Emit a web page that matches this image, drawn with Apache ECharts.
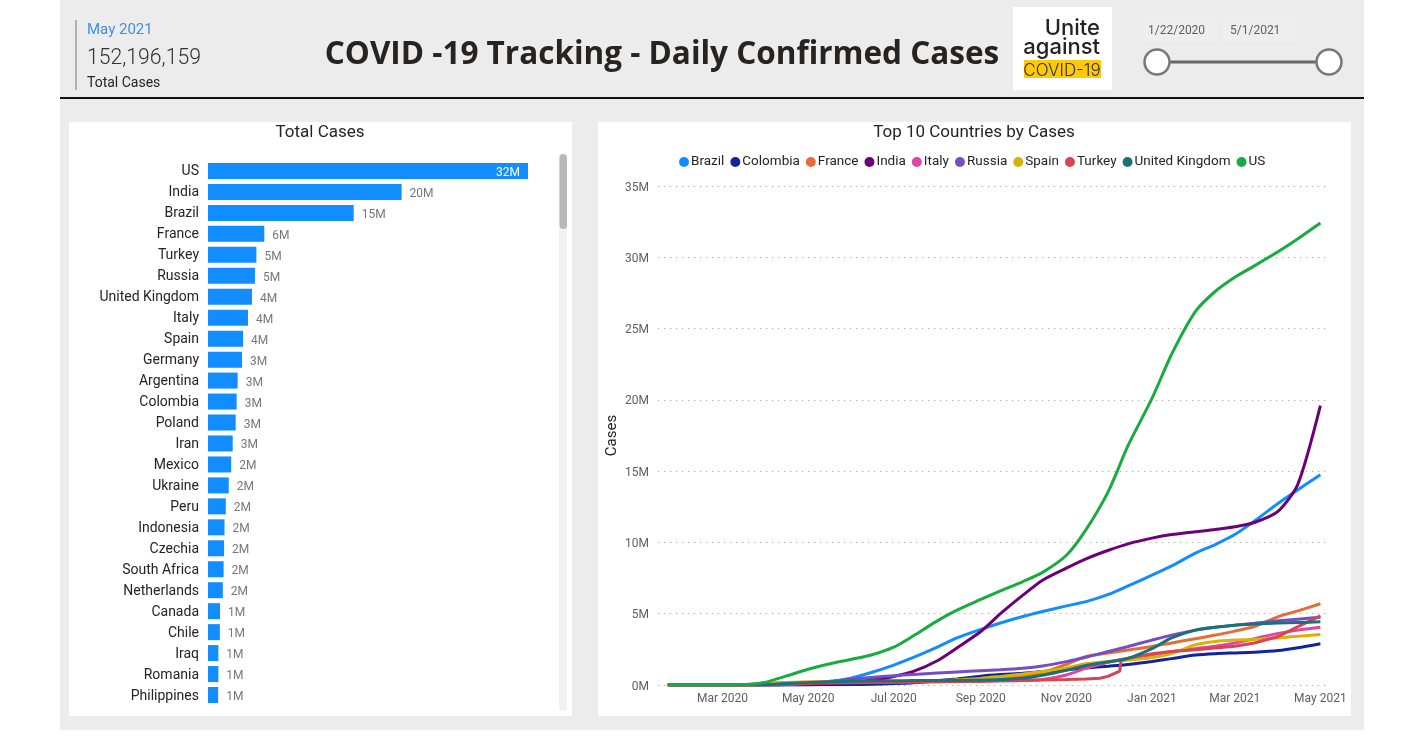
<!DOCTYPE html>
<html>
<head>
<meta charset="utf-8">
<script src="https://cdn.jsdelivr.net/npm/echarts@6/dist/echarts.min.js"></script>
<style>
html, body { margin: 0; padding: 0; background: #fff; }
#main { width: 1402px; height: 738px; }
</style>
</head>
<body>
<div id="main"></div>
<script>
// total cases per country, millions
var countries = ['US','India','Brazil','France','Turkey','Russia','United Kingdom','Italy','Spain','Germany','Argentina','Colombia','Poland','Iran','Mexico','Ukraine','Peru','Indonesia','Czechia','South Africa','Netherlands','Canada','Chile','Iraq','Romania','Philippines'];
var totals = [32.4,19.6,14.75,5.7,4.9,4.75,4.45,4.05,3.55,3.45,3.0,2.9,2.8,2.5,2.35,2.1,1.8,1.67,1.63,1.58,1.5,1.22,1.2,1.05,1.05,1.03];

// cumulative cases over time, millions
var dates = ['2020-01-22','2020-02-01','2020-02-15','2020-03-01','2020-03-15','2020-04-01','2020-04-15','2020-05-01','2020-05-15','2020-06-01','2020-06-15','2020-07-01','2020-07-15','2020-08-01','2020-08-15','2020-09-01','2020-09-15','2020-10-01','2020-10-15','2020-11-01','2020-11-15','2020-12-01','2020-12-15','2021-01-01','2021-01-15','2021-02-01','2021-02-15','2021-03-01','2021-03-15','2021-04-01','2021-04-15','2021-05-01'];
var brazil   = [0,0,0,0,0,0.006,0.028,0.09,0.2,0.5,0.88,1.4,1.93,2.65,3.3,3.9,4.35,4.8,5.15,5.55,5.85,6.35,6.95,7.7,8.35,9.25,9.85,10.55,11.5,12.75,13.7,14.75];
var colombia = [0,0,0,0,0,0.001,0.003,0.007,0.014,0.03,0.054,0.1,0.16,0.3,0.43,0.62,0.73,0.83,0.94,1.07,1.2,1.32,1.44,1.65,1.85,2.1,2.2,2.25,2.3,2.42,2.62,2.9];
var france   = [0,0,0,0,0.005,0.057,0.13,0.17,0.18,0.19,0.2,0.21,0.22,0.23,0.26,0.31,0.42,0.62,0.87,1.45,2.0,2.25,2.45,2.7,2.95,3.25,3.5,3.78,4.1,4.8,5.2,5.7];
var india    = [0,0,0,0,0,0.002,0.01,0.035,0.08,0.2,0.34,0.6,0.95,1.7,2.6,3.75,5.0,6.3,7.35,8.2,8.85,9.45,9.9,10.3,10.55,10.75,10.9,11.1,11.4,12.2,14.1,19.6];
var italy    = [0,0,0,0.001,0.02,0.11,0.16,0.2,0.22,0.23,0.237,0.24,0.244,0.25,0.253,0.27,0.29,0.315,0.38,0.7,1.18,1.6,1.88,2.1,2.35,2.55,2.72,2.95,3.25,3.62,3.85,4.05];
var russia   = [0,0,0,0,0,0.003,0.02,0.11,0.25,0.41,0.53,0.65,0.74,0.84,0.92,1.0,1.07,1.18,1.34,1.64,1.95,2.35,2.7,3.15,3.5,3.85,4.05,4.2,4.33,4.5,4.62,4.75];
var spain    = [0,0,0,0,0.008,0.1,0.18,0.21,0.23,0.24,0.245,0.25,0.26,0.29,0.36,0.46,0.6,0.77,0.94,1.2,1.5,1.65,1.76,1.93,2.2,2.82,3.05,3.15,3.2,3.3,3.42,3.55];
var uk       = [0,0,0,0,0.001,0.03,0.1,0.17,0.23,0.27,0.29,0.3,0.31,0.31,0.32,0.34,0.38,0.47,0.68,1.03,1.37,1.63,1.87,2.55,3.3,3.85,4.05,4.19,4.27,4.35,4.39,4.43];
var us       = [0,0,0,0,0.01,0.2,0.62,1.1,1.45,1.8,2.1,2.65,3.45,4.5,5.25,6.0,6.6,7.25,7.9,9.1,10.9,13.6,16.8,20.1,23.2,26.2,27.6,28.6,29.4,30.4,31.3,32.4];

// Turkey has its own dates because of the jump in December
var turkeyDates = ['2020-01-22','2020-03-15','2020-04-01','2020-04-15','2020-05-01','2020-05-15','2020-06-01','2020-06-15','2020-07-01','2020-07-15','2020-08-01','2020-08-15','2020-09-01','2020-09-15','2020-10-01','2020-10-15','2020-11-01','2020-11-15','2020-11-25','2020-12-01','2020-12-09','2020-12-10','2020-12-15','2021-01-01','2021-01-15','2021-02-01','2021-02-15','2021-03-01','2021-03-15','2021-04-01','2021-04-15','2021-05-01'];
var turkey = [0,0,0.015,0.07,0.12,0.145,0.165,0.18,0.2,0.215,0.23,0.25,0.27,0.295,0.32,0.345,0.38,0.42,0.47,0.62,0.98,1.72,1.87,2.2,2.35,2.48,2.6,2.72,2.95,3.4,4.1,4.85];

var xTicks = ['2020-03-01','2020-05-01','2020-07-01','2020-09-01','2020-11-01','2021-01-01','2021-03-01','2021-05-01'];
var monthNames = ['Jan','Feb','Mar','Apr','May','Jun','Jul','Aug','Sep','Oct','Nov','Dec'];

var lineNames  = ['Brazil','Colombia','France','India','Italy','Russia','Spain','Turkey','United Kingdom','US'];
var lineValues = [brazil,colombia,france,india,italy,russia,spain,turkey,uk,us];
var lineColors = ['#118DFF','#12239E','#E66C37','#6B007B','#E044A7','#744EC2','#D9B300','#D64550','#197278','#1AAB40'];

var font = 'Roboto, "Noto Sans", sans-serif';
var tickTimes = xTicks.map(function (d) { return Date.parse(d); });

var chart = echarts.init(document.getElementById('main'));

function pairs(xs, ys) {
    return ys.map(function (v, i) { return [Date.parse(xs[i]), v]; });
}

function text(x, y, str, size, color, align, extra) {
    return {
        type: 'text', x: x, y: y, z: 5,
        style: Object.assign({
            text: str, fontSize: size, fontFamily: font, fill: color,
            align: align || 'left', verticalAlign: 'middle'
        }, extra || {})
    };
}
function box(x, y, w, h, color, r) {
    return { type: 'rect', z: 1, shape: { x: x, y: y, width: w, height: h, r: r || 0 }, style: { fill: color } };
}
function knob(cx) {
    return { type: 'circle', z: 4, shape: { cx: cx, cy: 62, r: 12.5 }, style: { fill: '#fff', stroke: '#777', lineWidth: 2.5 } };
}

chart.setOption({
    useUTC: true,
    animation: false,
    textStyle: { fontFamily: font },
    title: [
        { text: 'COVID -19 Tracking - Daily Confirmed Cases', left: 657, top: 34, textAlign: 'center',
          textStyle: { fontSize: 31.5, fontWeight: 'bold', color: '#252423', fontFamily: '"Open Sans", sans-serif' } },
        { text: 'Total Cases', left: 315, top: 119, textAlign: 'center',
          textStyle: { fontSize: 17, fontWeight: 'normal', color: '#252423' } },
        { text: 'Top 10 Countries by Cases', left: 969, top: 119, textAlign: 'center',
          textStyle: { fontSize: 17, fontWeight: 'normal', color: '#252423' } }
    ],
    legend: {
        left: 674, top: 150, icon: 'circle', itemWidth: 10, itemHeight: 10, itemGap: 6,
        data: lineNames,
        textStyle: { fontSize: 13.5, color: '#252423', padding: [0, 0, 0, -3] }
    },
    grid: [
        { left: 208, top: 160.5, width: 345.7, height: 545 },
        { left: 658, top: 186, width: 668, height: 499 }
    ],
    xAxis: [
        { gridIndex: 0, type: 'value', min: 0, max: 35, show: false },
        { gridIndex: 1, type: 'time', min: Date.parse('2020-01-15'), max: Date.parse('2021-05-05'),
          splitNumber: 16,
          axisLine: { show: false }, axisTick: { show: false }, splitLine: { show: false },
          axisLabel: {
              margin: 7.5, fontSize: 12, color: '#605E5C', hideOverlap: false,
              showMinLabel: false, showMaxLabel: false,
              formatter: function (v) {
                  if (tickTimes.indexOf(+v) < 0) return '';
                  var d = new Date(+v);
                  return monthNames[d.getUTCMonth()] + ' ' + d.getUTCFullYear();
              }
          } }
    ],
    yAxis: [
        { gridIndex: 0, type: 'category', inverse: true, data: countries,
          axisLine: { show: false }, axisTick: { show: false },
          axisLabel: { margin: 9, formatter: '{a|{value}}',
                       rich: { a: { fontSize: 14, color: '#252423', padding: [2, 0, 0, 0] } } } },
        { gridIndex: 1, type: 'value', min: 0, max: 35, interval: 5,
          name: 'Cases', nameLocation: 'middle', nameGap: 38,
          nameTextStyle: { fontSize: 15, color: '#252423' },
          axisLine: { show: false }, axisTick: { show: false },
          axisLabel: { margin: 9, formatter: '{a|{value}M}',
                       rich: { a: { fontSize: 12, color: '#605E5C', padding: [3, 0, 0, 0] } } },
          splitLine: { lineStyle: { color: '#a8a8a8', width: 1.2, type: [1.2, 4.8] } } }
    ],
    series: [{
        type: 'bar', xAxisIndex: 0, yAxisIndex: 0, barWidth: 16, silent: true,
        itemStyle: { color: '#118DFF' },
        label: { show: true, position: 'right', distance: 8, offset: [0, 2], fontSize: 12, color: '#777',
                 formatter: function (p) { return Math.round(p.value) + 'M'; } },
        data: totals.map(function (v, i) {
            return i === 0
                ? { value: v, label: { position: 'insideRight', distance: 8, color: '#fff' } }
                : v;
        })
    }].concat(lineNames.map(function (name, i) {
        return {
            type: 'line', name: name, xAxisIndex: 1, yAxisIndex: 1,
            showSymbol: false, symbol: 'none',
            smooth: name === 'Turkey' ? false : 0.25,
            lineStyle: { width: 3, color: lineColors[i] },
            itemStyle: { color: lineColors[i] },
            data: pairs(name === 'Turkey' ? turkeyDates : dates, lineValues[i])
        };
    })),
    graphic: [
        // page and panels
        { type: 'rect', z: -10, silent: true, shape: { x: 60, y: 0, width: 1304, height: 730 }, style: { fill: '#ECECEC' } },
        { type: 'rect', z: -9, silent: true, shape: { x: 60, y: 97, width: 1304, height: 2 }, style: { fill: '#111' } },
        { type: 'rect', z: -9, silent: true, shape: { x: 69, y: 122, width: 503, height: 594 }, style: { fill: '#fff' } },
        { type: 'rect', z: -9, silent: true, shape: { x: 598, y: 122, width: 753, height: 594 }, style: { fill: '#fff' } },
        // scrollbar
        box(559, 154, 8, 557, '#F1F1F1', 4),
        box(559.5, 154, 7.5, 75, '#B8B8B8', 4),
        // KPI card
        box(75, 20, 2, 70, '#B0B0B0'),
        text(87, 30, 'May 2021', 15, '#3F8FE6'),
        text(87, 59, '152,196,159', 21.2, '#333', 'left', { fontWeight: 300 }),
        text(87, 83, 'Total Cases', 14, '#252423'),
        // logo
        box(1013, 7, 99, 83, '#fff'),
        text(1100, 28, 'Unite', 22, '#222', 'right', { fontFamily: 'Inter, sans-serif', fontWeight: 500 }),
        text(1100, 47, 'against', 22, '#222', 'right', { fontFamily: 'Inter, sans-serif', fontWeight: 500 }),
        box(1024, 60, 77, 18, '#FFC80A'),
        text(1062, 71, 'COVID-19', 17, '#333', 'center', { fontFamily: 'Inter, sans-serif', fontWeight: 300 }),
        // date slicer
        box(1143, 18, 73, 23, '#EEEEEE'),
        box(1222, 18, 74, 23, '#EEEEEE'),
        text(1148, 31, '1/22/2020', 12, '#605E5C'),
        text(1230, 31, '5/1/2021', 12, '#605E5C'),
        box(1165, 60.5, 156, 3, '#666'),
        knob(1157),
        knob(1329)
    ]
});

window.onresize = chart.resize;
</script>
</body>
</html>
